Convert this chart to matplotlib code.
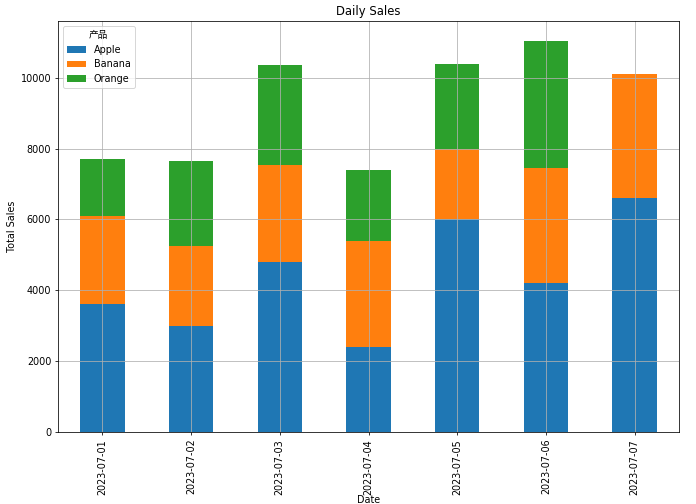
import numpy as np
import matplotlib
matplotlib.use('Agg')
import matplotlib.pyplot as plt

plt.rcParams['font.family'] = ['DejaVu Sans', 'Noto Sans CJK SC']

dates = ['2023-07-01', '2023-07-02', '2023-07-03', '2023-07-04',
         '2023-07-05', '2023-07-06', '2023-07-07']
apple = [3600, 3000, 4800, 2400, 6000, 4200, 6600]
banana = [2500, 2250, 2750, 3000, 2000, 3250, 3500]
orange = [1600, 2400, 2800, 2000, 2400, 3600, 0]
products = ['Apple', 'Banana', 'Orange']
legend_title = '产品'

colors = ['#1f77b4', '#ff7f0e', '#2ca02c']

fig = plt.figure(figsize=(10, 504 / 69.6), dpi=69.6)
ax = fig.add_axes([58 / 696, 72 / 504, 621 / 696, 411 / 504])

x = np.arange(len(dates))
bottom = np.zeros(len(dates))
for name, vals, c in zip(products, [apple, banana, orange], colors):
    ax.bar(x, vals, width=0.5, bottom=bottom, color=c, label=name)
    bottom += np.array(vals)

ax.set_xlim(-0.5, len(dates) - 0.5)
ax.set_xticks(x)
ax.set_xticklabels(dates, rotation=90)
ax.grid(True)
ax.set_title('Daily Sales')
ax.set_xlabel('Date', labelpad=0)
ax.set_ylabel('Total Sales')
ax.legend(title=legend_title, loc='upper left')

fig.savefig('out.png', dpi=69.6)
